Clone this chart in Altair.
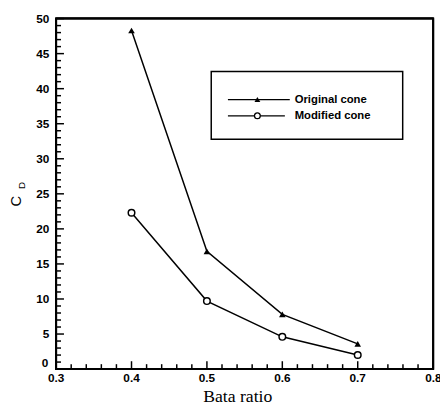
import altair as alt
import pandas as pd

beta = [0.4, 0.5, 0.6, 0.7]
original = [48.3, 16.8, 7.8, 3.6]
modified = [22.3, 9.7, 4.6, 2.0]
series_names = ["Original cone", "Modified cone"]

x_major = [0.3, 0.4, 0.5, 0.6, 0.7, 0.8]
x_labels = ["0.3", "0.4", "0.5", "0.6", "0.7", "0.8"]
x_minor = [0.32, 0.34, 0.36, 0.38, 0.42, 0.44, 0.46, 0.48, 0.52, 0.54, 0.56, 0.58,
           0.62, 0.64, 0.66, 0.68, 0.72, 0.74, 0.76, 0.78]
y_major = [0, 5, 10, 15, 20, 25, 30, 35, 40, 45, 50]
y_labels = ["0", "5", "10", "15", "20", "25", "30", "35", "40", "45", "50"]
y_minor = [v for v in range(1, 50) if v % 5 != 0]

df = pd.DataFrame({
    "beta": beta * 2,
    "cd": original + modified,
    "series": [series_names[0]] * 4 + [series_names[1]] * 4,
})
df_o = df[df.series == series_names[0]]
df_m = df[df.series == series_names[1]]

W, H = 384, 357
xs = alt.Scale(domain=[0.3, 0.8], nice=False, zero=False)
ys = alt.Scale(domain=[0, 50], nice=False)
Xn = alt.X("beta:Q", scale=xs, axis=None)
Yn = alt.Y("cd:Q", scale=ys, axis=None)

one = alt.Chart(pd.DataFrame({"k": [0]}))

frame = one.mark_rect(fill="white", stroke="#000000", strokeWidth=2).encode(
    x=alt.value(0), x2=alt.value(W), y=alt.value(0), y2=alt.value(H))

lines = alt.Chart(df).mark_line(color="black", strokeWidth=1.5).encode(x=Xn, y=Yn, detail="series:N")
pts_o = alt.Chart(df_o).mark_point(shape="triangle-up", filled=True, color="black", size=45, opacity=1).encode(
    x=Xn, y=Yn)
pts_m = alt.Chart(df_m).mark_point(shape="circle", filled=True, fill="white", stroke="black",
                                   strokeWidth=1.5, size=45, opacity=1).encode(x=Xn, y=Yn)

fx = pd.DataFrame({"x": [0.3, 0.8]})
fy = pd.DataFrame({"y": [0, 50]})
frame_v = alt.Chart(fx).mark_rule(color="#000000", strokeWidth=2).encode(
    x=alt.X("x:Q", scale=xs, axis=None), y=alt.value(0), y2=alt.value(H))
frame_h = alt.Chart(fy).mark_rule(color="#000000", strokeWidth=2).encode(
    y=alt.Y("y:Q", scale=ys, axis=None), x=alt.value(0), x2=alt.value(W))

def tick_rules(vals, axis, length):
    d = pd.DataFrame({"tv": vals})
    if axis == "y":
        return alt.Chart(d).mark_rule(color="#000000", strokeWidth=1.5).encode(
            y=alt.Y("tv:Q", scale=ys, axis=None), x=alt.value(0), x2=alt.value(length))
    return alt.Chart(d).mark_rule(color="#000000", strokeWidth=1.5).encode(
        x=alt.X("tv:Q", scale=xs, axis=None), y=alt.value(H), y2=alt.value(H - length))

ticks = [tick_rules(y_major, "y", 8), tick_rules(y_minor, "y", 5),
         tick_rules(x_major, "x", 8), tick_rules(x_minor, "x", 5)]

lab_font = dict(font="Liberation Sans", fontWeight="bold", fontSize=12, color="black")
xl = pd.DataFrame({"lv": x_major, "t": x_labels})
yl = pd.DataFrame({"lv": y_major, "t": y_labels})
x_lab = alt.Chart(xl[xl.lv < 0.75]).mark_text(align="center", baseline="middle", **lab_font).encode(
    x=alt.X("lv:Q", scale=xs, axis=None), y=alt.value(H + 9), text="t:N")
x_lab_last = alt.Chart(xl[xl.lv > 0.75]).mark_text(align="left", baseline="middle", dx=-8, **lab_font).encode(
    x=alt.X("lv:Q", scale=xs, axis=None), y=alt.value(H + 9), text="t:N")
y_lab = alt.Chart(yl[yl.lv > 0]).mark_text(align="right", baseline="middle", **lab_font).encode(
    y=alt.Y("lv:Q", scale=ys, axis=None), x=alt.value(-7), text="t:N")
y_lab0 = alt.Chart(yl[yl.lv == 0]).mark_text(align="right", baseline="bottom", dy=1, **lab_font).encode(
    y=alt.Y("lv:Q", scale=ys, axis=None), x=alt.value(-8), text="t:N")

leg_box = one.mark_rect(fill="white", stroke="black", strokeWidth=1.5).encode(
    x=alt.value(158), x2=alt.value(353), y=alt.value(54), y2=alt.value(123))
leg_l1 = one.mark_rule(color="black", strokeWidth=1.3).encode(x=alt.value(175), x2=alt.value(238), y=alt.value(82.5))
leg_l2 = one.mark_rule(color="black", strokeWidth=1.3).encode(x=alt.value(175), x2=alt.value(233), y=alt.value(99))
leg_p1 = one.mark_point(shape="triangle-up", filled=True, color="black", size=35, opacity=1).encode(
    x=alt.value(205), y=alt.value(82.5))
leg_p2 = one.mark_point(shape="circle", filled=True, fill="white", stroke="black", strokeWidth=1.3,
                        size=35, opacity=1).encode(x=alt.value(205), y=alt.value(99))
leg_t1 = one.mark_text(text=series_names[0], align="left", baseline="middle", font="Liberation Sans",
                       fontWeight="bold", fontSize=11.5, color="black").encode(x=alt.value(243), y=alt.value(82.5))
leg_t2 = one.mark_text(text=series_names[1], align="left", baseline="middle", font="Liberation Sans",
                       fontWeight="bold", fontSize=11.5, color="black").encode(x=alt.value(243), y=alt.value(99))

xtitle = one.mark_text(text="Bata ratio", align="center", baseline="middle", font="Liberation Serif",
                       fontSize=18, color="black").encode(x=alt.value(185), y=alt.value(386))
ytitle_c = one.mark_text(text="C", align="center", baseline="middle", font="Liberation Sans",
                         fontSize=15, angle=270, color="black").encode(x=alt.value(-41), y=alt.value(186))
ytitle_d = one.mark_text(text="D", align="center", baseline="middle", font="Liberation Sans",
                         fontSize=10, angle=270, color="black").encode(x=alt.value(-35), y=alt.value(170))

chart = alt.layer(
    frame, lines, pts_o, pts_m, x_lab, x_lab_last, y_lab, y_lab0,
    leg_box, leg_l1, leg_l2, leg_p1, leg_p2, leg_t1, leg_t2,
    xtitle, ytitle_c, ytitle_d, *ticks, frame_v, frame_h,
).properties(
    width=W, height=H,
    autosize=alt.AutoSizeParams(type="none"),
    padding={"left": 49, "top": 7, "right": 7, "bottom": 43},
).configure(background="white").configure_view(stroke="#000000", strokeWidth=2)

chart.save("out.html", embed_options={"renderer": "svg", "actions": False})
